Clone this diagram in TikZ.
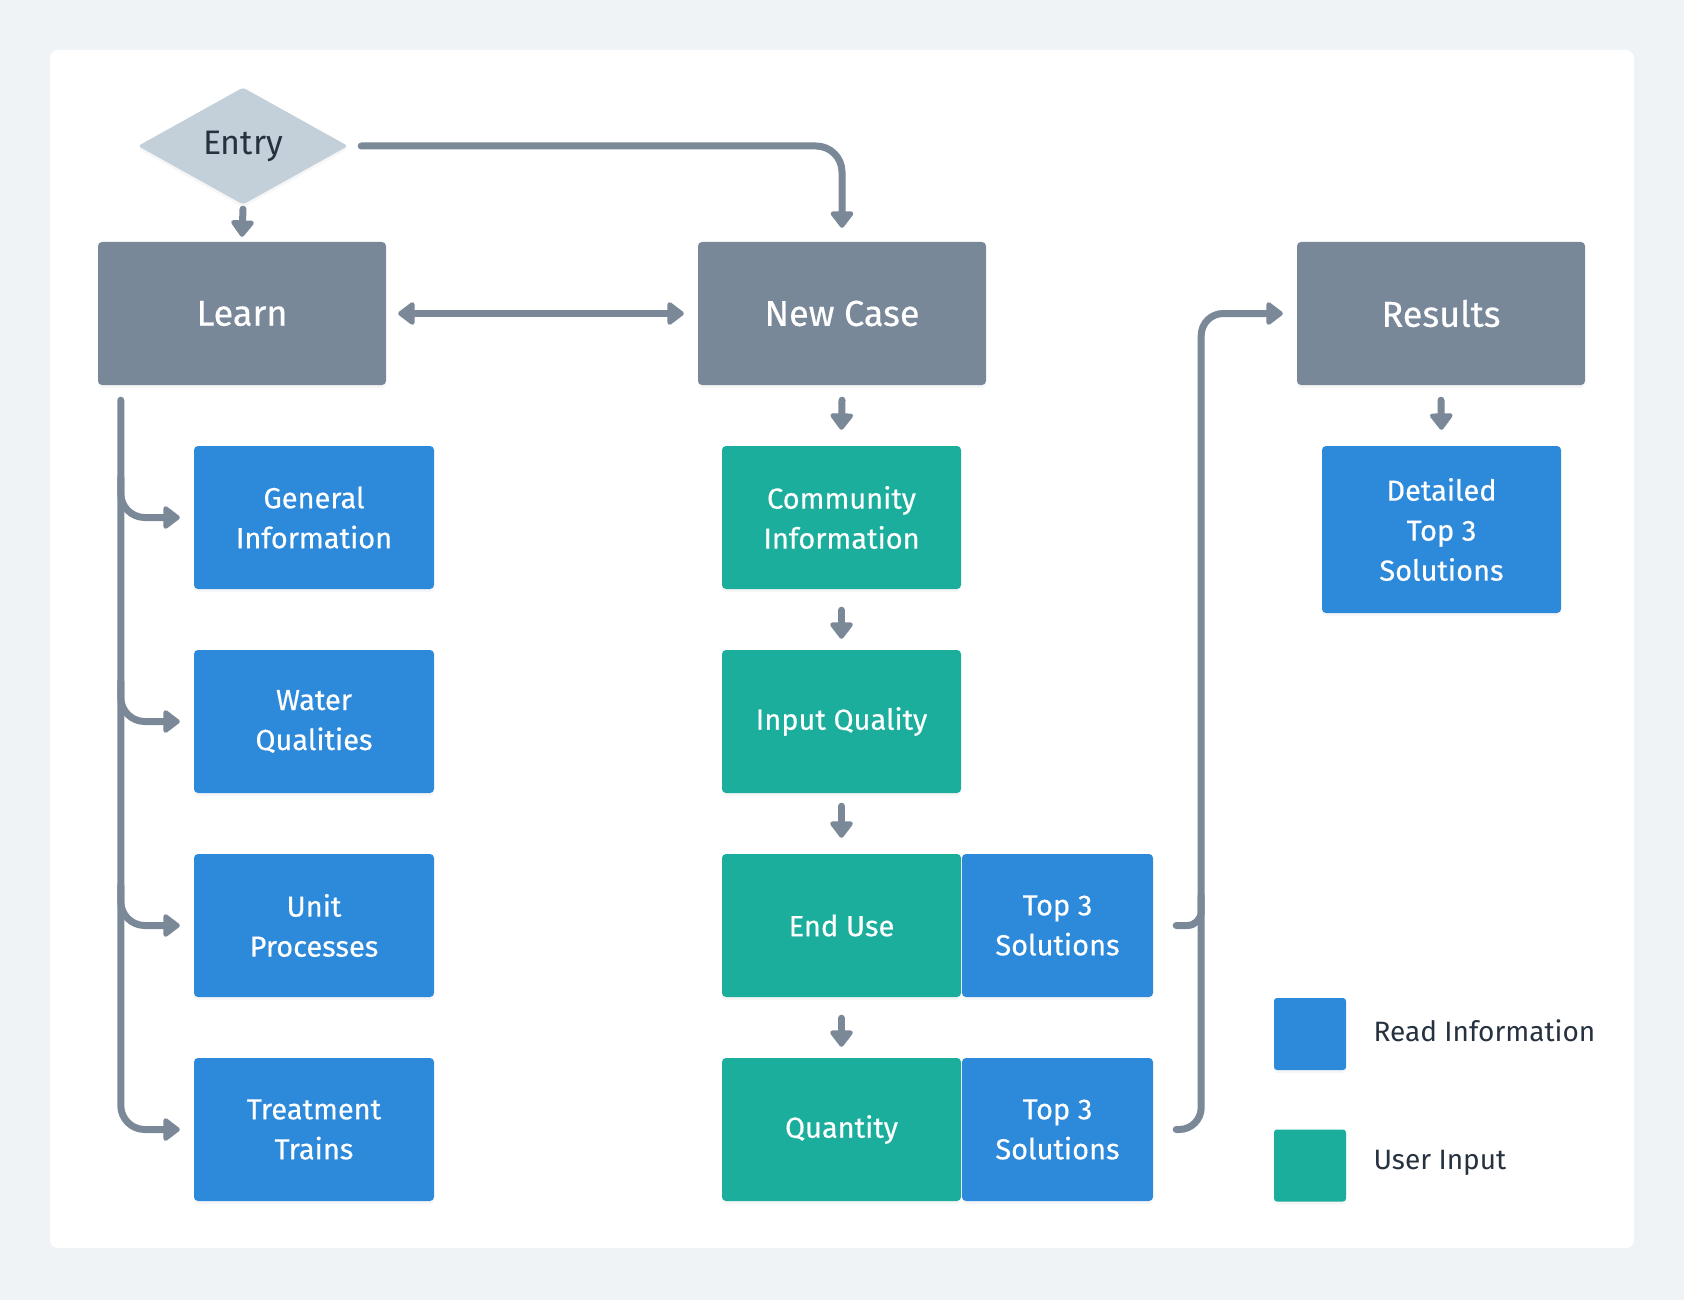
\documentclass[tikz,border=0pt]{standalone}
\usepackage{fontspec}
\setmainfont{Fira Sans}
\newfontfamily\cardfont{Fira Sans}[FakeBold=0.4]
\usetikzlibrary{arrows.meta,shapes.geometric,calc,shadows}
\definecolor{pagebg}{HTML}{EFF3F6}
\definecolor{slate}{HTML}{798898}
\definecolor{readblue}{HTML}{2D89DA}
\definecolor{inputteal}{HTML}{1BAE9C}
\definecolor{entrygray}{HTML}{C3D0DA}
\definecolor{ink}{HTML}{26323F}
\definecolor{wire}{HTML}{7A8898}

\begin{document}
\begin{tikzpicture}[x=1pt,y=-1pt,
  softshadow/.style={drop shadow={opacity=0.07, shadow xshift=0pt, shadow yshift=-3pt}},
  card/.style={rectangle, rounded corners=4pt, inner sep=0pt, align=center, text=white, softshadow},
  section/.style={card, fill=slate, minimum width=288pt, minimum height=143pt,
    font=\cardfont\fontsize{36}{44}\selectfont},
  info/.style={card, fill=readblue, minimum width=240pt, minimum height=143pt,
    font=\cardfont\fontsize{29}{40}\selectfont},
  userin/.style={card, fill=inputteal, minimum width=239pt, minimum height=143pt,
    font=\cardfont\fontsize{29}{40}\selectfont},
  solutions/.style={info, minimum width=191pt},
  keybox/.style={card, rounded corners=3pt, minimum width=72pt, minimum height=72pt},
  keytext/.style={anchor=west, text=ink, font=\fontsize{28}{36}\selectfont},
  wireline/.style={draw=wire, line width=7pt, line cap=round},
  flow/.style={wireline, -{Triangle[length=18pt,width=26pt,round]}},
  flowboth/.style={wireline, {Triangle[length=18pt,width=26pt,round]}-{Triangle[length=18pt,width=26pt,round]}},
]

% page and panel
\fill[pagebg] (0,0) rectangle (1684,1300);
\fill[white, rounded corners=8pt] (50,50) rectangle (1634,1248);

% entry point
\node[diamond, fill=entrygray, rounded corners=3pt, inner sep=0pt,
      minimum width=210pt, minimum height=117pt, text=ink,
      font=\fontsize{34}{40}\selectfont, softshadow]
  (entry) at (243,146) {\raisebox{-2pt}{Entry}};

% section headers
\node[section] (learn)   at (242,313.5)  {Learn};
\node[section] (newcase) at (842,313.5)  {New Case};
\node[section] (results) at (1441,313.5) {Results};

% learn column
\node[info] (geninfo) at (314,517.5)  {General\\ Information};
\node[info] (water)   at (314,721.5)  {Water\\ Qualities};
\node[info] (unit)    at (314,925.5)  {Unit\\ Processes};
\node[info] (trains)  at (314,1129.5) {Treatment\\ Trains};

% new case column
\node[userin] (community) at (841.5,517.5)  {Community\\ Information};
\node[userin] (inputq)    at (841.5,721.5)  {Input Quality};
\node[userin] (enduse)    at (841.5,925.5)  {End Use};
\node[userin] (quantity)  at (841.5,1129.5) {Quantity};
\node[solutions] (topa) at (1057.5,925.5)  {Top 3\\ Solutions};
\node[solutions] (topb) at (1057.5,1129.5) {Top 3\\ Solutions};

% results column
\node[info, minimum width=239pt, minimum height=167pt] (detailed) at (1441.5,529.5)
  {Detailed\\ Top 3\\ Solutions};

% legend
\node[keybox, fill=readblue]  (readkey)  at (1310,1034)   {};
\node[keybox, fill=inputteal] (inputkey) at (1310,1165.5) {};
\node[keytext] (readlbl)  at (1370,1031) {Read Information};
\node[keytext] (inputlbl) at (1370,1163) {User Input};

% connectors: top level
\draw[flow] ([yshift=-4.5pt]entry.south) -- ([yshift=5pt]learn.north);
\draw[flow, rounded corners=26pt] ([xshift=13pt]entry.east) -| ([yshift=14pt]newcase.north);
\draw[flowboth] ([xshift=12pt]learn.east) -- ([xshift=-14pt]newcase.west);

% connectors: new case chain
\draw[flow] ([yshift=-15pt]newcase.south)   -- ([yshift=16pt]community.north);
\draw[flow] ([yshift=-21pt]community.south) -- ([yshift=11pt]inputq.north);
\draw[flow] ([yshift=-13pt]inputq.south)    -- ([yshift=16pt]enduse.north);
\draw[flow] ([yshift=-21pt]enduse.south)    -- ([yshift=11pt]quantity.north);

% connectors: results
\draw[flow] ([yshift=-15pt]results.south) -- ([yshift=16pt]detailed.north);

% learn trunk with branches
\coordinate (trunk) at ([xshift=23pt,yshift=-15pt]learn.south west);
\draw[flow, rounded corners=24pt] (trunk) |- ([xshift=-14pt]trains.west);
\draw[flow, rounded corners=24pt] ($(trunk |- geninfo.west)+(0,-40)$) |- ([xshift=-14pt]geninfo.west);
\draw[flow, rounded corners=24pt] ($(trunk |- water.west)+(0,-40)$)   |- ([xshift=-14pt]water.west);
\draw[flow, rounded corners=24pt] ($(trunk |- unit.west)+(0,-40)$)    |- ([xshift=-14pt]unit.west);

% solutions rail into results
\draw[flow, rounded corners=22pt] ([xshift=23pt]topb.east) -- ++(25,0) |- ([xshift=-14pt]results.west);
\draw[wireline, rounded corners=14pt] ([xshift=23pt]topa.east) -- ++(25,0) -- ++(0,-30);

\end{tikzpicture}
\end{document}
